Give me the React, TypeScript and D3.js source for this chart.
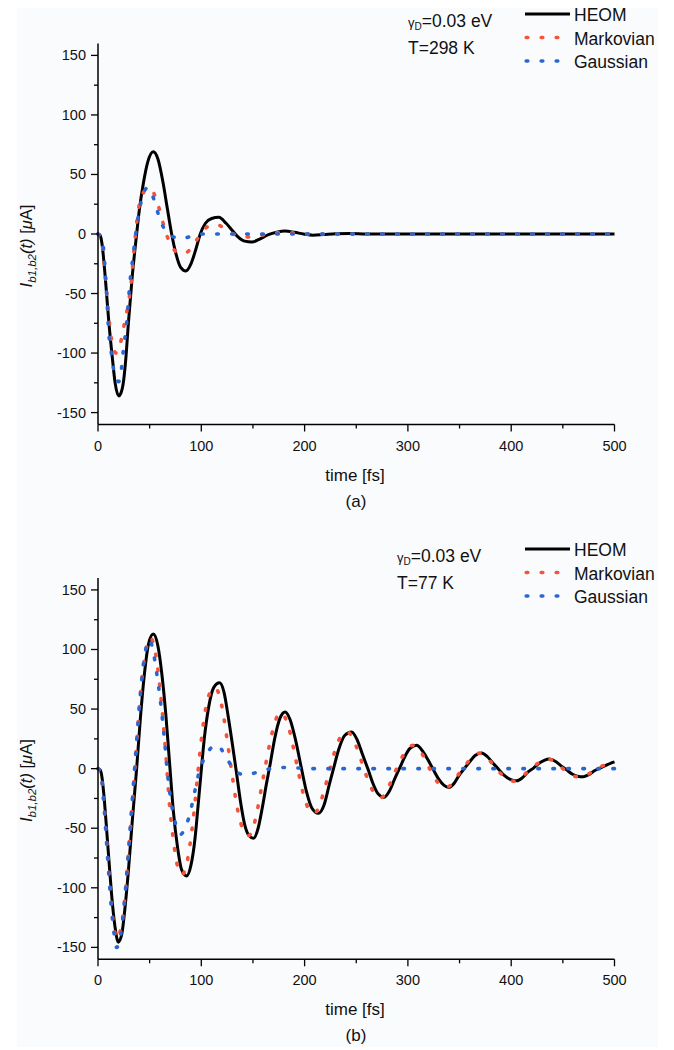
import React from "react";
import * as d3 from "d3";

// ---- panel (a), T = 298 K ----
const tHeomA = [0, 2, 4, 6, 8, 10.5, 14, 16.5, 20, 22, 24.5, 27, 29.5, 33, 37.4, 40, 44, 48, 53.5, 58, 63, 67, 71.3, 75, 80, 85, 90, 95, 99, 104, 110, 117, 124, 130, 135, 142, 149, 157, 165, 173, 181, 190, 199, 208, 218, 230, 244, 260, 300, 350, 400, 450, 500];
const vHeomA = [0, -1, -9, -26, -47, -74, -105, -124.6, -136, -134, -125, -104, -74, -37, 0, 20, 43, 60, 69, 63, 43, 22, 0, -15, -28, -31, -25, -12, 0, 9, 13, 14, 9, 3, -2, -6, -6.7, -4, -0.5, 1.5, 2.5, 1.5, 0, -1, -0.5, 0.3, 0.5, 0, 0, 0, 0, 0, 0];

const tMarkA = [0, 3, 6, 9, 12, 15, 17.5, 20, 23, 26, 29, 32, 35, 39, 43, 48, 52, 56, 60, 64, 67, 71, 76, 82, 88, 93, 98, 103, 108, 113, 118, 123, 130, 138, 146, 155, 165, 175, 185, 200, 230, 300, 400, 500];
const vMarkA = [0, -3, -25, -55, -82, -96, -100, -96, -87, -73, -60, -42, -12, 20, 33, 38, 37, 30, 19, 6, -2, -10, -15, -16.5, -14, -8, -2, 4, 7, 8, 7, 4.5, 0.5, -2, -2.5, -1.5, 0, 1, 1, 0, 0, 0, 0, 0];

const tGaussA = [0, 3, 5, 8, 10.6, 12.6, 15, 18, 20, 22, 24.5, 27.8, 31, 34, 36.5, 39, 42, 45.5, 48, 51, 54.5, 59, 62, 65.5, 70, 75, 80, 86, 93, 100, 150, 250, 350, 500];
const vGaussA = [0, -3, -10, -45, -85, -98, -113, -122, -124, -118, -98, -74, -40, -18, 0, 15, 28, 37, 39, 36, 28, 15, 8, 3, -1, -3, -4, -3, -1, 0, 0, 0, 0, 0];

// ---- panel (b), T = 77 K ----
const tHeomB = [0, 2, 4, 6, 8, 10.5, 13, 16.5, 19.7, 23, 26, 29.5, 33, 37.4, 41, 45, 49, 53.5, 58, 62, 65.5, 69, 73, 77, 81, 85.8, 90, 94, 97, 99.6, 103, 107, 112, 117.7, 122, 126, 130, 134, 138, 142, 146, 150.5, 155, 159, 163, 166.5, 171, 176, 181.2, 186, 191, 197, 202, 207, 213.3, 219, 224, 228, 233, 239, 245.5, 251, 256, 261.6, 266, 271, 276.8, 282, 287, 292.3, 297, 302, 308.5, 314, 319, 324.7, 330, 335, 339.8, 345, 350, 355, 360, 365, 371.4, 377, 382, 387.8, 393, 399, 405.3, 411, 416, 421.6, 427, 432, 437.2, 443, 448, 453.7, 459, 464, 469.8, 475, 481, 486, 491, 496, 500];
const vHeomB = [0, -1, -8, -25, -47, -76, -104, -133, -145.6, -139, -118, -85, -46, 0, 42, 80, 105, 113, 103, 78, 47, 8, -36, -66, -85, -90, -81, -58, -30, -5, 26, 51, 68, 72, 64, 44, 21, -3, -28, -47, -56, -58.4, -50, -33, -13, 3, 25, 42, 47.5, 41, 25, 0, -20, -33, -37.5, -30, -13, 0, 16, 28, 30.8, 24, 12, -1, -12, -21, -24.1, -19, -9, 1, 10, 17, 19.6, 15, 8, -1, -9, -14, -15.8, -12, -5, 0.5, 6, 11, 13.2, 10, 5, -0.5, -5.5, -9, -10.2, -7.5, -3, 0.5, 4.5, 7, 8, 6, 2.5, -1, -4.5, -6.3, -6.8, -5, -1.5, 0.5, 2.5, 4.5, 5.7];

const tMarkB = [0, 2, 4, 6, 8, 10.5, 13, 16, 18.5, 21, 24, 27, 30, 34, 36, 39, 42, 46, 50.5, 54, 58, 62, 66, 69, 73, 77, 81, 85, 89, 93, 96.5, 100, 104, 108, 113, 118, 122, 126, 130, 134, 138, 142, 146, 150, 154, 158, 162, 166, 171, 176, 181, 186, 190, 194, 199, 204, 209, 214, 219, 224, 229, 235, 241, 247, 252, 257, 262, 267, 273, 279, 284, 289, 294, 299, 305, 311, 316, 321, 326, 331, 337, 343, 348, 353, 358, 363, 369, 375, 380, 385.5, 391, 397, 403, 409, 414, 419.5, 425, 430, 435, 441, 446, 451.5, 457, 462, 467.5, 473, 479, 484, 489, 495, 500];
const vMarkB = [0, -2, -12, -32, -56, -86, -114, -136, -143, -138, -124, -98, -65, -20, 3, 40, 72, 98, 110, 104, 83, 50, 8, -28, -60, -82, -89, -83, -64, -36, -5, 24, 49, 63, 68, 60, 42, 18, -6, -29, -45, -54, -56, -50, -36, -17, 2, 20, 38, 47, 43, 30, 14, -3, -22, -34, -37.5, -32, -18, -2, 14, 27, 31, 25, 14, 1, -11, -20, -24.5, -20, -10, 0, 9, 16, 19.5, 16, 9, 0, -8, -13.5, -15.8, -12.5, -6, 0, 5.5, 10, 13, 10.5, 6, 0, -5, -9, -10.5, -8, -4, 0.5, 4, 7, 8, 6.5, 3, -1, -4.5, -6.5, -7, -5.5, -2, 0.5, 2.5, 4.8, 6.5];

const tGaussB = [0, 2, 4, 6, 8, 10.5, 13, 15.5, 18, 20.5, 23, 26, 29, 32, 35, 38, 41, 44, 47, 49.5, 52, 55, 57.5, 60, 62.5, 65, 67, 69.5, 72, 75, 78, 80.5, 83, 86, 89, 91.5, 94, 97, 101, 104, 108, 113, 117, 121, 125, 128, 132, 136.5, 142, 148, 154, 160, 167, 180, 195, 210, 300, 400, 500];
const vGaussB = [0, -2, -12, -33, -58, -89, -117, -138, -150, -146, -133, -108, -75, -40, -5, 30, 62, 88, 103, 108, 104, 91, 76, 60, 40, 18, -2, -20, -34, -46, -54, -55, -52, -46, -38, -28, -18, -6, 5, 11, 16, 19.5, 19, 14, 8, 4, -1, -4, -5, -4.5, -3, -1.5, 0, 1, 0.5, 0, 0, 0, 0];

const yMajor = [-150, -100, -50, 0, 50, 100, 150];
const yMinor = [-125, -75, -25, 25, 75, 125];
const xMajor = [0, 100, 200, 300, 400, 500];
const xMinor = [50, 150, 250, 350, 450];

const FONT = "'Liberation Sans', Arial, Helvetica, sans-serif";
const RED = "#f4553a";
const BLUE = "#2a66d2";
const DOTS = "1.6 13.4";

function zip(ts, vs) {
  return ts.map((t, i) => [t, vs[i]]);
}

function Panel({ top, bottom, heom, mark, gauss, temp, annX, legTop, tag }) {
  const x = d3.scaleLinear().domain([0, 500]).range([98, 614.5]);
  const y = d3.scaleLinear().domain([-160, 160]).range([bottom, top]);
  const line = d3
    .line()
    .x(d => x(d[0]))
    .y(d => y(d[1]))
    .curve(d3.curveMonotoneX);

  const rows = [legTop, legTop + 23.5, legTop + 47];

  return (
    <g fontFamily={FONT} fill="#111">
      {/* curves */}
      <path d={line(heom)} fill="none" stroke="#000" strokeWidth={3} />
      <path d={line(mark)} fill="none" stroke={RED} strokeWidth={3.6} strokeLinecap="round" strokeDasharray={DOTS} />
      <path d={line(gauss)} fill="none" stroke={BLUE} strokeWidth={3.6} strokeLinecap="round" strokeDasharray={DOTS} />

      {/* axes */}
      <line x1={x(0)} x2={x(0)} y1={top} y2={bottom} stroke="#000" strokeWidth={1.5} />
      <line x1={x(0)} x2={x(500)} y1={bottom} y2={bottom} stroke="#000" strokeWidth={1.5} />
      {yMajor.map(v => (
        <g key={"ym" + v}>
          <line x1={x(0) - 7} x2={x(0)} y1={y(v)} y2={y(v)} stroke="#000" strokeWidth={1.3} />
          <text x={86} y={y(v) + 5} fontSize={14.5} textAnchor="end">{v}</text>
        </g>
      ))}
      {yMinor.map(v => (
        <line key={"yn" + v} x1={x(0) - 4} x2={x(0)} y1={y(v)} y2={y(v)} stroke="#000" strokeWidth={1.3} />
      ))}
      {xMajor.map(v => (
        <g key={"xm" + v}>
          <line x1={x(v)} x2={x(v)} y1={bottom} y2={bottom + 7} stroke="#000" strokeWidth={1.3} />
          <text x={x(v)} y={bottom + 26} fontSize={14.5} textAnchor="middle">{v}</text>
        </g>
      ))}
      {xMinor.map(v => (
        <line key={"xn" + v} x1={x(v)} x2={x(v)} y1={bottom} y2={bottom + 4} stroke="#000" strokeWidth={1.3} />
      ))}

      <text x={355} y={bottom + 56} fontSize={17} textAnchor="middle">time [fs]</text>
      <text x={356} y={bottom + 82} fontSize={17} textAnchor="middle">{tag}</text>

      <text transform={`translate(32,${(top + bottom) / 2 + 12}) rotate(-90)`} fontSize={16.5} textAnchor="middle">
        <tspan fontStyle="italic">I</tspan>
        <tspan fontStyle="italic" fontSize={11.5} dy={4}>b1,b2</tspan>
        <tspan fontStyle="italic" dy={-4}>(t)</tspan>
        <tspan> [</tspan>
        <tspan fontStyle="italic">μ</tspan>
        <tspan>A]</tspan>
      </text>

      {/* annotation */}
      <text x={annX} y={rows[0] + 13} fontSize={17.5}>
        <tspan fontSize={13}>γ</tspan>
        <tspan fontSize={10} dy={3}>D</tspan>
        <tspan dy={-3}>=0.03 eV</tspan>
      </text>
      <text x={annX} y={rows[0] + 40} fontSize={17.5}>{temp}</text>

      {/* legend */}
      <line x1={525} x2={570} y1={rows[0]} y2={rows[0]} stroke="#000" strokeWidth={3} />
      <line x1={526.2} x2={566} y1={rows[1]} y2={rows[1]} stroke={RED} strokeWidth={3.6} strokeLinecap="round" strokeDasharray={DOTS} />
      <line x1={526.2} x2={566} y1={rows[2]} y2={rows[2]} stroke={BLUE} strokeWidth={3.6} strokeLinecap="round" strokeDasharray={DOTS} />
      <text x={574} y={rows[0] + 7} fontSize={17.5}>HEOM</text>
      <text x={574} y={rows[1] + 7} fontSize={17.5}>Markovian</text>
      <text x={574} y={rows[2] + 7} fontSize={17.5}>Gaussian</text>
    </g>
  );
}

export default function App() {
  return (
    <svg
      width={674}
      height={1050}
      style={{ position: "absolute", left: 0, top: 0, display: "block", background: "#fff" }}
    >
      <rect x={17} y={8} width={641} height={1039} fill="#fafbfd" />
      <Panel
        top={43.5}
        bottom={424.5}
        heom={zip(tHeomA, vHeomA)}
        mark={zip(tMarkA, vMarkA)}
        gauss={zip(tGaussA, vGaussA)}
        temp="T=298 K"
        annX={408}
        legTop={14}
        tag="(a)"
      />
      <Panel
        top={578}
        bottom={959.3}
        heom={zip(tHeomB, vHeomB)}
        mark={zip(tMarkB, vMarkB)}
        gauss={zip(tGaussB, vGaussB)}
        temp="T=77 K"
        annX={397}
        legTop={549}
        tag="(b)"
      />
    </svg>
  );
}
